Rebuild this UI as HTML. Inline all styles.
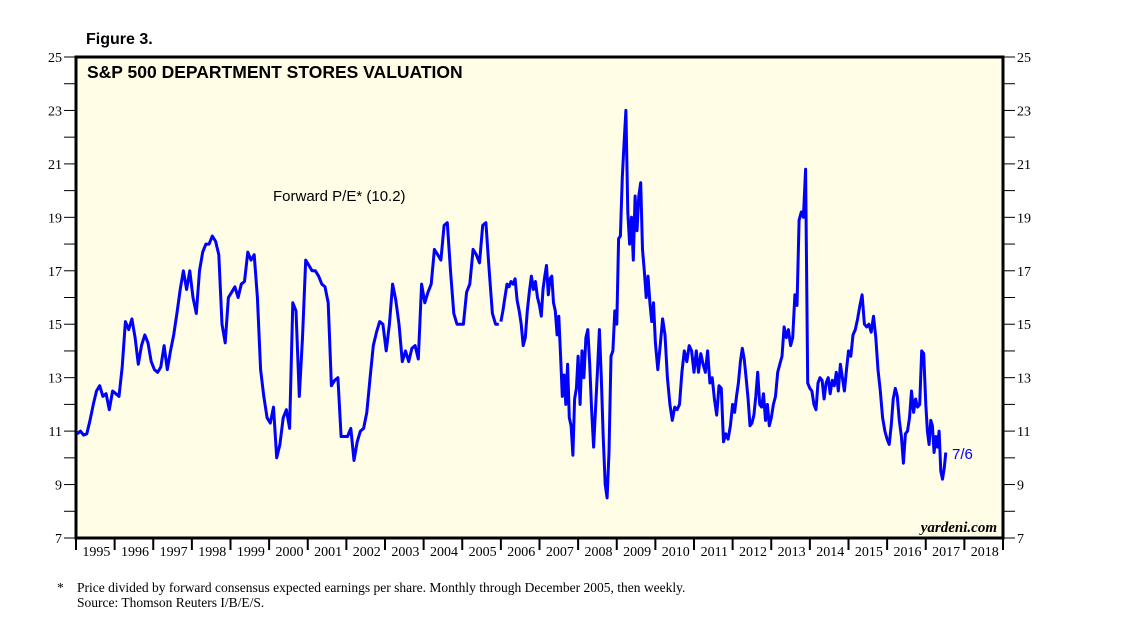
<!DOCTYPE html>
<html><head><meta charset="utf-8"><style>
body{margin:0;background:#fff;width:1138px;height:622px;overflow:hidden}
svg text{font-family:"Liberation Sans",sans-serif}
</style></head><body>
<svg id="chart" width="1138" height="622" xmlns="http://www.w3.org/2000/svg">
<text x="86" y="44" font-size="16" font-weight="bold">Figure 3.</text>
<rect x="76" y="57" width="927" height="481" fill="#fffde6" stroke="#000" stroke-width="3"/>
<text x="87" y="78" font-size="17.5" font-weight="bold">S&amp;P 500 DEPARTMENT STORES VALUATION</text>
<text x="273" y="201" font-size="15">Forward P/E* (10.2)</text>
<text x="952" y="459" font-size="15" fill="#0000ff">7/6</text>
<text x="997" y="532" font-size="15" font-weight="bold" font-style="italic" text-anchor="end" style="font-family:'Liberation Serif',serif">yardeni.com</text>
<g id="yaxes"></g>
<g id="xaxis"></g>
<g id="lines"></g>
<text x="57" y="592" font-size="13.5" style="font-family:'Liberation Serif',serif">*</text>
<text x="77" y="592" font-size="13.5" style="font-family:'Liberation Serif',serif">Price divided by forward consensus expected earnings per share. Monthly through December 2005, then weekly.</text>
<text x="77" y="607" font-size="13.5" style="font-family:'Liberation Serif',serif">Source: Thomson Reuters I/B/E/S.</text>
</svg>
<script>
const yTicks=[7,9,11,13,15,17,19,21,23,25];
const years=[1995,1996,1997,1998,1999,2000,2001,2002,2003,2004,2005,2006,2007,2008,2009,2010,2011,2012,2013,2014,2015,2016,2017,2018];
const monthlyStart=1995;
const monthly=[
10.9,11.0,10.85,10.9,11.4,12.0,12.5,12.7,12.3,12.4,11.8,12.5,
12.4,12.3,13.4,15.1,14.8,15.2,14.5,13.5,14.2,14.6,14.3,13.6,
13.3,13.2,13.4,14.2,13.3,14.0,14.6,15.4,16.3,17.0,16.3,17.0,
16.0,15.4,17.0,17.7,18.0,18.0,18.3,18.1,17.6,15.0,14.3,16.0,
16.2,16.4,16.0,16.5,16.6,17.7,17.4,17.6,16.0,13.3,12.3,11.5,
11.3,11.9,10.0,10.5,11.5,11.8,11.1,15.8,15.5,12.3,14.5,17.4,
17.2,17.0,17.0,16.8,16.5,16.4,15.8,12.7,12.9,13.0,10.8,10.8,
10.8,11.1,9.9,10.6,11.0,11.1,11.7,13.0,14.2,14.7,15.1,15.0,
14.0,15.0,16.5,15.9,15.0,13.6,14.0,13.6,14.1,14.2,13.7,16.5,
15.8,16.2,16.5,17.8,17.6,17.4,18.7,18.8,17.0,15.4,15.0,15.0,
15.0,16.2,16.5,17.8,17.6,17.3,18.7,18.8,17.0,15.4,15.0,15.0];
const w2006=[15.1,15.5,16.0,16.5,16.4,16.6,16.5,16.7,15.9,15.5,15.0,14.2,14.5,15.5,16.2,16.8,16.3,16.6,16.0];
const w2007=[15.7,15.3,16.3,16.8,17.2,16.1,16.7,16.8,15.8,15.5,14.6,15.3,13.8,12.3,13.1,12.0,13.5,11.5,11.2,10.1,12.2,12.6];
const w2008=[13.8,12.0,14.0,13.0,14.5,14.8,13.5,11.8,10.4,11.8,13.2,14.8,13.0,10.8,9.0,8.5,10.2,13.8,14.0,15.5];
const w2009=[15.0,18.2,18.3,20.5,21.8,23.0,19.2,18.0,19.0,17.4,19.8,18.5,19.8,20.3,17.8,17.0,16.0,16.8,15.8,15.1,15.8];
const w2010=[14.3,13.3,14.2,15.2,14.6,13.0,12.0,11.4,11.9,11.8,12.0,13.2,14.0,13.6,14.2,14.0];
const w2011=[13.2,14.0,13.2,13.9,13.5,13.2,14.0,12.8,13.0,12.2,11.6,12.7,12.6,10.6,10.9,10.7,11.2];
const w2012=[12.0,11.7,12.3,12.8,13.6,14.1,13.7,13.0,12.2,11.2,11.3,11.6,12.3,13.2,12.0,11.9,12.4,11.4,12.0,11.2];
const w2013=[11.5,12.0,12.3,13.2,13.5,13.8,14.9,14.5,14.8,14.2,14.5,16.1,15.7,18.9,19.2,19.0,20.8,12.8];
const w2014=[12.6,12.5,12.0,11.8,12.8,13.0,12.9,12.2,12.8,13.0,12.4,12.9,12.7,13.2,12.5,13.5,13.0,12.5,13.3];
const w2015=[14.0,13.8,14.6,14.8,15.2,15.7,16.1,15.0,14.9,15.0,14.7,15.3,14.5,13.3,12.5,11.5,11.0];
const w2016=[10.7,10.5,11.2,12.2,12.6,12.3,11.4,10.8,9.8,10.9,11.0,11.5,12.5,11.7,12.2,11.9,12.0,14.0,13.9];
const w2017=[12.0,11.0,10.5,11.4,11.2,10.2,10.8,10.4,11.0,9.5,9.2,9.6,10.2];
const weeklyYears=[2006,2007,2008,2009,2010,2011,2012,2013,2014,2015,2016,2017];
const weeklySets=[w2006,w2007,w2008,w2009,w2010,w2011,w2012,w2013,w2014,w2015,w2016,w2017];
const lastSpan=0.52;

const L=76,R=1003,T=57,B=538,X0=1995,X1=2019,Y0=7,Y1=25;
const xs=t=>L+(t-X0)/(X1-X0)*(R-L);
const ys=v=>B-(v-Y0)/(Y1-Y0)*(B-T);
const NS="http://www.w3.org/2000/svg";
function mk(tag,attrs,parent){const e=document.createElementNS(NS,tag);for(const k in attrs)e.setAttribute(k,attrs[k]);parent.appendChild(e);return e;}
const ya=document.getElementById('yaxes'),xa=document.getElementById('xaxis'),ln=document.getElementById('lines');
for(let v=Y0;v<=Y1;v++){
  const y=ys(v);
  const t1=mk('line',{x1:L-12,x2:L,y1:y,y2:y,stroke:'#000','stroke-width':1},ya);
  
  
  const t2=mk('line',{x1:R,x2:R+12,y1:y,y2:y,stroke:'#000','stroke-width':1},ya);
  
  
}
yTicks.forEach(v=>{
  const a=mk('text',{x:L-14,y:ys(v)+5,'text-anchor':'end','font-size':14,style:"font-family:'Liberation Serif',serif"},ya);a.textContent=v;
  
  
  const b=mk('text',{x:R+14,y:ys(v)+5,'font-size':14,style:"font-family:'Liberation Serif',serif"},ya);b.textContent=v;
  
  
});
for(let i=0;i<=years.length;i++){
  const x=xs(X0+i);
  const tk=mk('line',{x1:x,x2:x,y1:B,y2:B+12,stroke:'#000','stroke-width':2},xa);
  
  
}
years.forEach((yr,i)=>{
  const t=mk('text',{x:(xs(yr)+xs(yr+1))/2+1,y:B+18,'text-anchor':'middle','font-size':14,style:"font-family:'Liberation Serif',serif"},xa);t.textContent=yr;
  
  
});
let d1='';
monthly.forEach((v,i)=>{const t=monthlyStart+i/12+0.03;d1+=(i?'L':'M')+xs(t).toFixed(1)+','+ys(v).toFixed(1);});
const p1=mk('path',{d:d1,fill:'none',stroke:'#0000ff','stroke-width':3,'stroke-linejoin':'round'},ln);


let d2='',first=true;
weeklySets.forEach((arr,j)=>{
  const span=j===weeklySets.length-1?lastSpan:1;
  arr.forEach((v,i)=>{const t=weeklyYears[j]+span*i/(arr.length-(j===weeklySets.length-1?1:0));d2+=(first?'M':'L')+xs(t).toFixed(1)+','+ys(v).toFixed(1);first=false;});
});
const p2=mk('path',{d:d2,fill:'none',stroke:'#0000ff','stroke-width':3,'stroke-linejoin':'round'},ln);


</script>
</body></html>
